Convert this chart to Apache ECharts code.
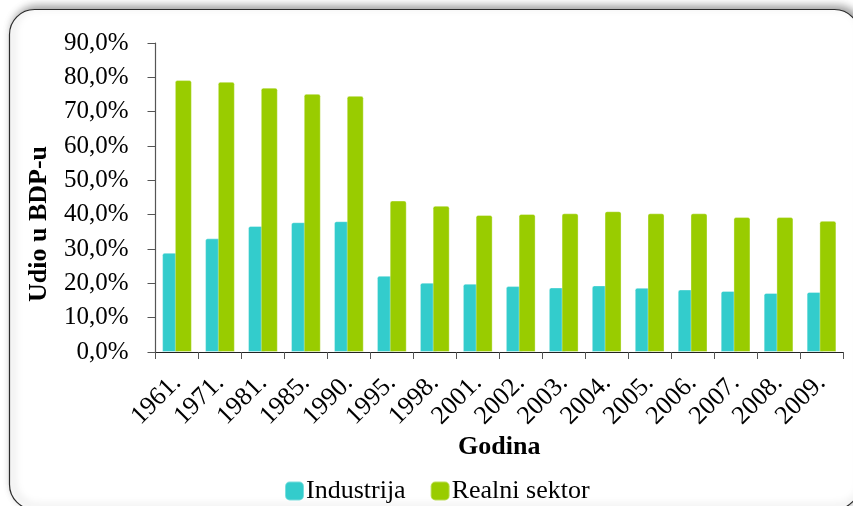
<!DOCTYPE html>
<html>
<head>
<meta charset="utf-8">
<script src="https://cdn.jsdelivr.net/npm/echarts@6/dist/echarts.min.js"></script>
<style>
html,body{margin:0;padding:0;background:#fff;}
#chart{width:853px;height:506px;}
</style>
</head>
<body>
<div id="chart"></div>
<script>
var categories = ['1961.','1971.','1981.','1985.','1990.','1995.','1998.','2001.','2002.','2003.','2004.','2005.','2006.','2007.','2008.','2009.'];
var industrija = [28.9,33.1,36.7,37.8,38.1,22.2,20.2,19.9,19.2,18.8,19.4,18.7,18.2,17.8,17.2,17.5];
var realniSektor = [79.2,78.7,77.0,75.2,74.6,44.1,42.6,39.9,40.2,40.4,41.0,40.4,40.4,39.3,39.3,38.2];
var yTickLabels = ['0,0%','10,0%','20,0%','30,0%','40,0%','50,0%','60,0%','70,0%','80,0%','90,0%'];
var seriesNames = ['Industrija','Realni sektor'];
var xAxisTitle = 'Godina';
var yAxisTitle = 'Udio u BDP-u';

var FONT = '"Liberation Serif", "Times New Roman", serif';
var chart = echarts.init(document.getElementById('chart'));
chart.setOption({
  backgroundColor: '#fff',
  animation: false,
  graphic: [
    {
      type: 'rect', z: -10, silent: true,
      shape: {x: 9.5, y: 9.5, width: 850, height: 500, r: 25},
      style: {fill: '#fff', stroke: '#2b2b2b', lineWidth: 1.2,
        shadowBlur: 9, shadowColor: 'rgba(0,0,0,0.4)', shadowOffsetX: 3, shadowOffsetY: -3}
    },
    {
      type: 'text', rotation: Math.PI/2,
      style: {text: yAxisTitle, font: 'bold 26px ' + FONT, fill: '#000'},
      x: 26, y: 302, silent: true
    }
  ],
  grid: {left: 155.5, right: 10, top: 43, bottom: 154, containLabel: false},
  legend: {
    data: seriesNames, top: 478, left: 284, padding: 0, itemWidth: 19, itemHeight: 19, itemGap: 24,
    icon: 'roundRect',
    textStyle: {fontFamily: FONT, fontSize: 26, color: '#000', padding: [0,0,0,-3]}
  },
  xAxis: {
    type: 'category', data: categories,
    name: xAxisTitle, nameLocation: 'middle', nameGap: 82, nameMoveOverlap: false,
    nameTextStyle: {fontFamily: FONT, fontSize: 26, fontWeight: 'bold', color: '#000'},
    axisLine: {lineStyle: {color: '#222', width: 1.2}},
    axisTick: {show: true, length: 7, inside: false, alignWithLabel: false, lineStyle: {color: '#555'}},
    axisLabel: {rotate: 45, fontFamily: FONT, fontSize: 26, color: '#000', margin: 27, interval: 0}
  },
  yAxis: {
    type: 'value', min: 0, max: 90, interval: 10,
    axisLine: {show: true, lineStyle: {color: '#555', width: 1.2}},
    axisTick: {show: true, length: 8, lineStyle: {color: '#555'}},
    splitLine: {show: false},
    axisLabel: {fontFamily: FONT, fontSize: 25, color: '#000', margin: 27,
      formatter: function (v) { return yTickLabels[Math.round(v / 10)]; }}
  },
  series: [
    {name: seriesNames[0], type: 'bar', data: industrija, barWidth: 17, barGap: '-25%',
     itemStyle: {color: '#33CCCC', borderRadius: [2,2,0,0], borderColor: 'rgba(255,255,255,0.35)', borderWidth: 1}},
    {name: seriesNames[1], type: 'bar', data: realniSektor, barWidth: 17, barGap: '-25%',
     itemStyle: {color: '#99CC00', borderRadius: [2,2,0,0], borderColor: 'rgba(255,255,255,0.35)', borderWidth: 1}}
  ]
});
</script>
</body>
</html>
